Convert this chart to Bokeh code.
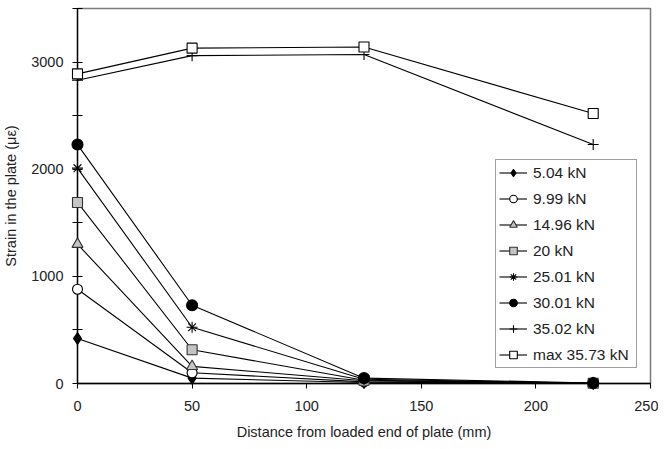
from bokeh.plotting import figure
from bokeh.models import Range1d, Legend, FixedTicker
from bokeh.embed import file_html
from bokeh.resources import INLINE

# Data
distance = [0, 50, 125, 225]
labels = ["5.04 kN", "9.99 kN", "14.96 kN", "20 kN", "25.01 kN", "30.01 kN", "35.02 kN", "max 35.73 kN"]
s504 = [420, 50, 10, 0]
s999 = [880, 100, 15, 0]
s1496 = [1300, 160, 25, 2]
s20 = [1690, 315, 30, 3]
s2501 = [2010, 525, 40, 3]
s3001 = [2230, 730, 50, 5]
s3502 = [2830, 3060, 3070, 2230]
smax = [2890, 3130, 3140, 2520]
series = [s504, s999, s1496, s20, s2501, s3001, s3502, smax]
x_ticks = [0, 50, 100, 150, 200, 250]
y_ticks = [0, 1000, 2000, 3000]
y_minor = [500, 1500, 2500, 3500]
x_title = "Distance from loaded end of plate (mm)"
y_title = "Strain in the plate (με)"

FONT = "Liberation Sans"

# layout (pixels)
W, H = 658, 443
FL, FR, FT, FB = 77, 650, 8, 383

p = figure(width=W, height=H, output_backend="svg", toolbar_location=None,
           x_range=Range1d(0, 250), y_range=Range1d(0, 3500),
           min_border_left=FL, min_border_right=W - FR, min_border_top=FT, min_border_bottom=H - FB)
p.grid.visible = False
p.outline_line_color = "#7a7a7a"
p.outline_line_width = 1.5
p.background_fill_color = "white"

styles = [
    dict(marker="diamond", size=12, fill_color="black", line_color="black"),
    dict(marker="circle", size=10, fill_color="white", line_color="black"),
    dict(marker="triangle", size=11, fill_color="#c4c4c4", line_color="#333333"),
    dict(marker="square", size=10, fill_color="#c4c4c4", line_color="#333333"),
    dict(marker="asterisk", size=11, fill_color=None, line_color="black"),
    dict(marker="circle", size=11, fill_color="black", line_color="black"),
    dict(marker="cross", size=11, fill_color=None, line_color="black"),
    dict(marker="square", size=10, fill_color="white", line_color="black"),
]

items = []
for lab, yv, st in zip(labels, series, styles):
    r1 = p.line(distance, yv, line_color="black", line_width=1.1)
    # markers drawn in an unclipped level so the ones on the axes stay whole
    r2 = p.scatter(distance, yv, line_width=1.1, level="annotation", **st)
    items.append((lab, [r1, r2]))

legend = Legend(items=items, location=(495 - FL, FB - 368))
legend.label_text_font = FONT
legend.label_text_font_size = "15.5px"
legend.label_text_color = "#222222"
legend.border_line_color = "#404040"
legend.border_line_width = 1
legend.padding = 3
legend.margin = 0
legend.spacing = 7
legend.glyph_height = 19
legend.label_height = 19
legend.glyph_width = 28
legend.label_standoff = 6
legend.label_width = 100
legend.background_fill_alpha = 1
p.add_layout(legend, "center")

p.xaxis.ticker = FixedTicker(ticks=x_ticks)
p.yaxis.ticker = FixedTicker(ticks=y_ticks, minor_ticks=y_minor)
for ax in (p.xaxis[0], p.yaxis[0]):
    ax.axis_line_color = "black"
    ax.axis_line_width = 1.3
    ax.major_tick_line_color = "black"
    ax.minor_tick_line_color = "black"
    ax.major_label_text_font = FONT
    ax.major_label_text_font_size = "14.5px"
    ax.major_label_text_color = "#222222"
    ax.axis_label_text_font = FONT
    ax.axis_label_text_font_size = "14.5px"
    ax.axis_label_text_font_style = "normal"
    ax.axis_label_text_color = "#222222"

p.xaxis.major_tick_in = 0
p.xaxis.major_tick_out = 5
p.xaxis.minor_tick_line_color = None
p.xaxis.major_label_standoff = 12
p.xaxis.axis_label = x_title
p.xaxis.axis_label_standoff = 10

p.yaxis.major_tick_in = 5
p.yaxis.major_tick_out = 5
p.yaxis.minor_tick_in = 5
p.yaxis.minor_tick_out = 5
p.yaxis.major_label_standoff = 9
p.yaxis.axis_label = y_title
p.yaxis.axis_label_standoff = 9

open("out.html", "w").write(file_html(p, INLINE))
